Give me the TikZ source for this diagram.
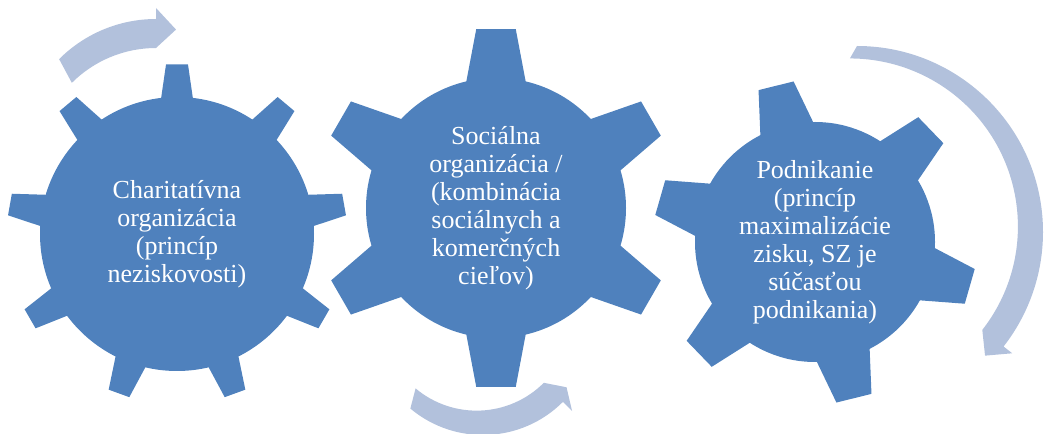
\documentclass[tikz,border=0pt]{standalone}
\usepackage{fontspec}
\setmainfont{Liberation Serif}
\definecolor{gearblue}{HTML}{4F81BD}
\definecolor{arrowblue}{HTML}{B2C1DC}

\begin{document}
\begin{tikzpicture}[x=1pt,y=1pt,
  gearfill/.style={fill=gearblue},
  arrowfill/.style={fill=arrowblue},
  geartext/.style={text=white,align=center,inner sep=0pt,font=\fontsize{26}{28}\selectfont}]
\useasboundingbox (0,0) rectangle (1045,434);
\coordinate (g1) at (177,200);
\coordinate (g2) at (496,226);
\coordinate (g3) at (815,192);

% left gear, nine teeth
\fill[gearfill] (g1) circle (137);
\foreach \t in {90,50,...,-230}
  \fill[gearfill,shift={(g1)},rotate=\t] (-7.1:133) -- (-3.7:170) -- (3.7:170) -- (7.1:133) -- cycle;

% middle gear, six teeth
\fill[gearfill] (g2) circle (130);
\foreach \t in {90,30,...,-210}
  \fill[gearfill,shift={(g2)},rotate=\t] (-14:126) -- (-6.3:180) -- (6.3:180) -- (14:126) -- cycle;

% right gear, six teeth
\fill[gearfill] (g3) circle (120);
\foreach \t in {104,44,...,-196}
  \fill[gearfill,shift={(g3)},rotate=\t] (-14:116) -- (-6.4:162) -- (6.4:162) -- (14:116) -- cycle;

% turning arrows
\fill[arrowfill,shift={(156,278)}] (135:137) arc[start angle=135,end angle=90,radius=137]
  -- (90:148) -- (81:128) -- (90:108) arc[start angle=90,end angle=135,radius=119] -- cycle;
\fill[arrowfill,shift={(483,112)}] (230:113) arc[start angle=230,end angle=315,radius=113]
  -- (315:126) -- (322:106) -- (315:86) arc[start angle=315,end angle=230,radius=95] -- cycle;
\fill[arrowfill,shift={(857,202)}] (90:186) arc[start angle=90,end angle=-38,radius=186]
  -- (-38:197) -- (-44:178) -- (-38:159) arc[start angle=-38,end angle=90,radius=168] -- cycle;

\node[geartext] (charita) at (g1) {Charitatívna\\organizácia\\(princíp\\neziskovosti)};
\node[geartext] (socialna) at (g2) {Sociálna\\organizácia /\\(kombinácia\\sociálnych a\\komerčných\\cieľov)};
\node[geartext] (podnik) at (g3) {Podnikanie\\(princíp\\maximalizácie\\zisku, SZ je\\súčasťou\\podnikania)};
\end{tikzpicture}
\end{document}
